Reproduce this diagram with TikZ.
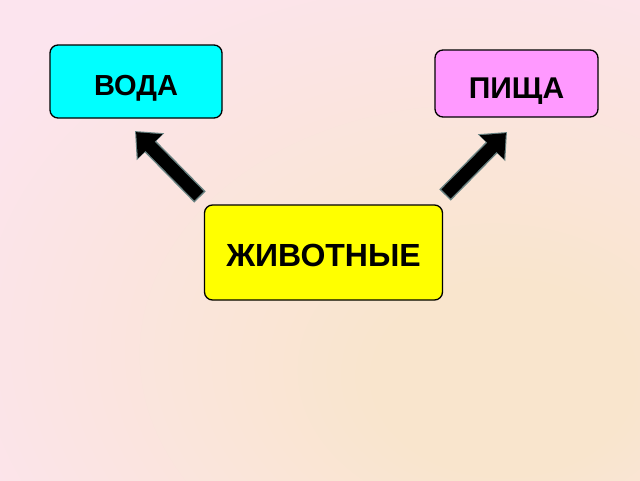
\documentclass[tikz,border=0pt]{standalone}
\usepackage{fontspec}
\setmainfont{Liberation Sans}
\usetikzlibrary{arrows.meta}
\definecolor{bgpink}{RGB}{252,228,238}
\definecolor{bgpeach}{RGB}{249,229,205}
\definecolor{boxcyan}{RGB}{0,255,255}
\definecolor{boxpink}{RGB}{255,153,255}
\definecolor{boxyellow}{RGB}{255,255,0}
\definecolor{arrowedge}{RGB}{105,130,130}
\pgfdeclareradialshading{bgshade}{\pgfpoint{16bp}{-16bp}}{color(0bp)=(bgpeach); color(10bp)=(bgpeach); color(42bp)=(bgpink); color(100bp)=(bgpink)}
\begin{document}
\begin{tikzpicture}[x=1pt,y=-1pt,
  box/.style={draw=black, line width=1.3pt, rounded corners=8pt, inner sep=0pt,
    font=\bfseries, text height=21pt, text depth=0pt},
  arrowedgeline/.style={line width=16pt, draw=arrowedge, line cap=butt,
    -{Triangle[length=22pt,width=37pt]}},
  arrowcore/.style={line width=13pt, draw=black, line cap=butt,
    -{Triangle[length=20pt,width=33pt]}, shorten >=1.5pt, shorten <=1.5pt}]
\shade[shading=bgshade] (0,0) rectangle (640,480);
\useasboundingbox (0,0) rectangle (640,480);

\node[box, fill=boxcyan, minimum width=172pt, minimum height=73pt] (voda) at (136,81.5) {\fontsize{29}{29}\selectfont\raisebox{-3pt}{ВОДА}};
\node[box, fill=boxpink, minimum width=163pt, minimum height=67pt] (pischa) at (516.5,83.5) {\fontsize{30}{30}\selectfont\raisebox{-4pt}{ПИЩА}};
\node[box, fill=boxyellow, minimum width=238pt, minimum height=95pt] (zhiv) at (323.5,252.5) {\fontsize{32}{32}\selectfont\raisebox{-3.5pt}{ЖИВОТНЫЕ}};

\coordinate (a1s) at (200,197);
\coordinate (a1e) at (135,131);
\coordinate (a2s) at (445,195);
\coordinate (a2e) at (507,132);

\draw[arrowedgeline] (a1s) -- (a1e);
\draw[arrowcore] (a1s) -- (a1e);
\draw[arrowedgeline] (a2s) -- (a2e);
\draw[arrowcore] (a2s) -- (a2e);
\end{tikzpicture}
\end{document}
